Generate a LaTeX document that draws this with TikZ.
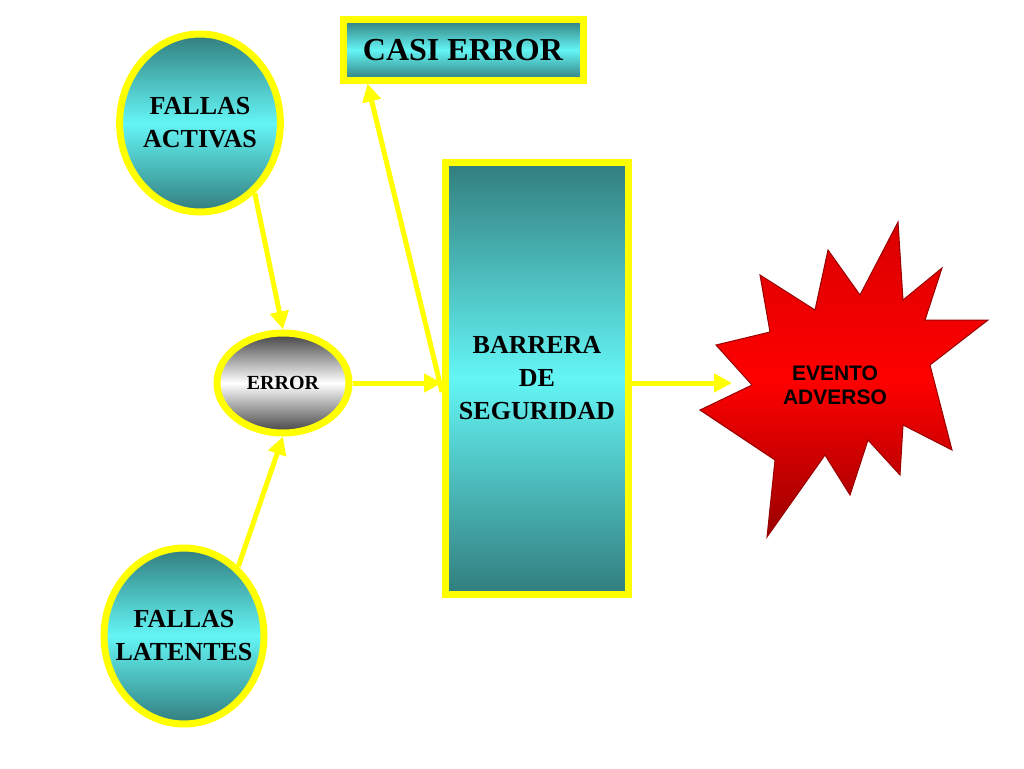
\documentclass[tikz,border=0pt]{standalone}
\usepackage{fontspec}
\setmainfont{Liberation Serif}
\newfontfamily\sansb{Liberation Sans}
\usetikzlibrary{shapes.geometric,arrows.meta}
\definecolor{yel}{RGB}{255,255,0}
\definecolor{tealdk}{RGB}{50,125,125}
\definecolor{cyanlt}{RGB}{100,245,245}
\tikzset{
 teal/.style={draw=yel,line width=7pt,top color=tealdk,bottom color=tealdk,middle color=cyanlt,font=\bfseries,align=center,inner sep=0pt},
 gray/.style={draw=yel,line width=7pt,top color=black!75,bottom color=black!75,middle color=white,font=\bfseries,align=center,inner sep=0pt},
 arr/.style={yel,line width=5pt,-{Triangle[length=18pt,width=18pt]}}
}
\begin{document}
\begin{tikzpicture}[x=1pt,y=-1pt]
\useasboundingbox (0,0) rectangle (1024,768);
\node[teal,ellipse,minimum width=158,minimum height=178,font=\bfseries\fontsize{26}{33}\selectfont] (fa) at (200,123) {FALLAS\\ACTIVAS};
\node[teal,ellipse,inner xsep=-13pt,minimum width=160,minimum height=176,font=\bfseries\fontsize{26}{33}\selectfont] (fl) at (184,636) {FALLAS\\LATENTES};
\node[gray,ellipse,minimum width=132,minimum height=100,font=\bfseries\fontsize{20}{24}\selectfont] (er) at (283,383) {ERROR};
\node[teal,rectangle,minimum width=240,minimum height=60,font=\bfseries\fontsize{32}{38}\selectfont] (ce) at (463,50) {CASI ERROR};
\node[teal,rectangle,minimum width=183,minimum height=432,font=\bfseries\fontsize{26}{33}\selectfont] (bar) at (537,378) {BARRERA\\DE\\SEGURIDAD};
\shade[top color=red!85!black,bottom color=red!60!black,middle color=red,draw=red!60!black,line width=1pt]
 (898,222)--(903,300)--(942,268)--(925,320)--(988,320)--(930,365)--(952,450)--(903,425)--(900,475)--(868,440)--(850,495)--(825,455)--(767,537)--(775,460)--(700,410)--(752,385)--(716,345)--(770,332)--(760,275)--(815,310)--(828,250)--(860,295)--cycle;
\node[font=\sansb\bfseries\fontsize{21}{24}\selectfont,align=center] (ev) at (835,385) {EVENTO\\ADVERSO};
\coordinate (evl) at (732,383);
\draw[arr] (fa.-52) -- (er.north);
\draw[arr] (fl.52) -- (er.south);
\draw[arr] (er.east) -- (er.east -| bar.west);
\draw[arr] ([yshift=-14pt]bar.west) -- ([xshift=28pt]ce.south west);
\draw[arr] (bar.east |- evl) -- (evl);
\end{tikzpicture}
\end{document}
